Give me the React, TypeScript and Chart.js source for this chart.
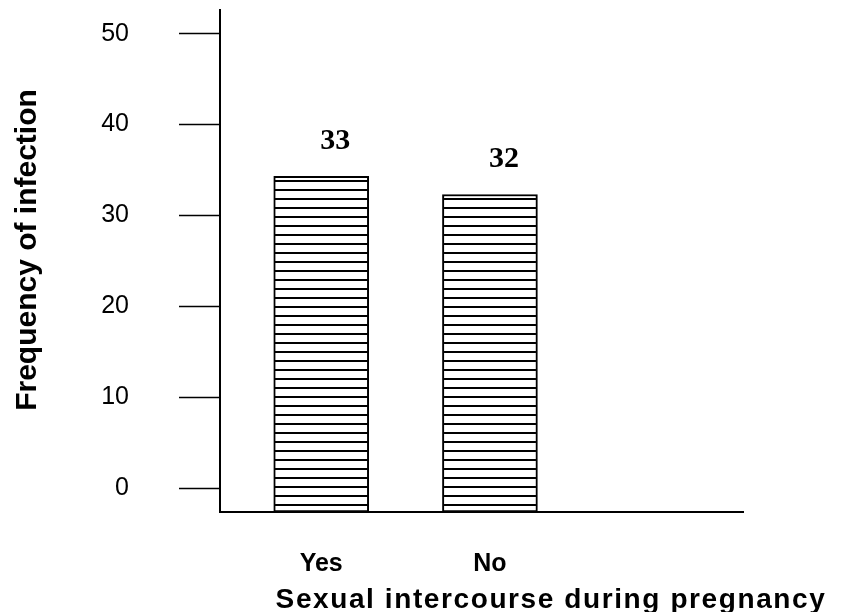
import React, { useEffect, useRef } from "react";
import { Chart, registerables } from "chart.js";

Chart.register(...registerables);

// ---- data ----
const categories = ["Yes", "No"];
const categoryPositions = [1, 2];
const barValues = [34.3, 32.3]; // bar heights as drawn in the picture
const valueLabels = ["33", "32"]; // numbers printed above the bars
const yTickValues = [0, 10, 20, 30, 40, 50];
const yTickLabels = ["0", "10", "20", "30", "40", "50"];
const xTitle = "Sexual intercourse during pregnancy";
const yTitle = "Frequency of infection";

const Y_MIN = -2.64;
const Y_MAX = 52.6;
const X_MIN = 0.4;
const X_MAX = 3.5;

function makeHatch(): CanvasPattern | string {
  const pc = document.createElement("canvas");
  pc.width = 4;
  pc.height = 9;
  const c = pc.getContext("2d");
  if (!c) return "#fff";
  c.fillStyle = "#fff";
  c.fillRect(0, 0, 4, 9);
  c.fillStyle = "#000";
  c.fillRect(0, 0, 4, 2);
  const p = c.createPattern(pc, "repeat");
  return p || "#fff";
}

const annotationPlugin = {
  id: "annotations",
  afterDatasetsDraw(chart: any) {
    const ctx = chart.ctx;
    const meta = chart.getDatasetMeta(0);
    ctx.save();
    ctx.fillStyle = "#000";
    ctx.font = "bold 30px 'Liberation Serif', 'Times New Roman', serif";
    ctx.textAlign = "center";
    ctx.textBaseline = "alphabetic";
    meta.data.forEach((bar: any, i: number) => {
      ctx.fillText(valueLabels[i], bar.x + 14, bar.y - 27);
    });
    ctx.restore();
  },
  afterDraw(chart: any) {
    const ctx = chart.ctx;
    const area = chart.chartArea;
    ctx.save();
    ctx.fillStyle = "#000";
    ctx.font = "bold 28px 'Liberation Sans', Arial, sans-serif";
    ctx.textAlign = "center";
    ctx.textBaseline = "alphabetic";
    try {
      (ctx as any).letterSpacing = "1.6px";
    } catch (e) {}
    ctx.fillText(xTitle, area.left + 331, area.bottom + 96);
    try {
      (ctx as any).letterSpacing = "0px";
    } catch (e) {}
    ctx.font = "bold 30px 'Liberation Sans', Arial, sans-serif";
    ctx.translate(36, area.top + 240);
    ctx.rotate(-Math.PI / 2);
    ctx.fillText(yTitle, 0, 0);
    ctx.restore();
  },
};

export default function App() {
  const ref = useRef<HTMLCanvasElement | null>(null);

  useEffect(() => {
    if (!ref.current) return;
    const hatch = makeHatch();
    const chart = new Chart(ref.current, {
      type: "bar",
      data: {
        datasets: [
          {
            data: categoryPositions.map((x, i) => ({ x, y: barValues[i] })),
            backgroundColor: hatch as any,
            borderColor: "#000",
            borderWidth: 2,
            borderSkipped: false,
            base: Y_MIN,
            barThickness: 95,
          } as any,
        ],
      },
      options: {
        animation: false,
        responsive: false,
        layout: { padding: { top: 10, right: 109, left: 0, bottom: 0 } },
        plugins: {
          legend: { display: false },
          tooltip: { enabled: false },
        },
        scales: {
          x: {
            type: "linear",
            min: X_MIN,
            max: X_MAX,
            offset: false,
            afterBuildTicks: (axis: any) => {
              axis.ticks = categoryPositions.map((v) => ({ value: v }));
            },
            afterFit: (s: any) => {
              s.height = 100;
              s.paddingLeft = 0;
              s.paddingRight = 0;
              s.paddingTop = 0;
              s.paddingBottom = 0;
            },
            grid: { display: false, drawTicks: false, offset: false },
            border: { display: true, color: "#000", width: 2 },
            ticks: {
              callback: (v: any) => {
                const i = categoryPositions.indexOf(Number(v));
                return i >= 0 ? categories[i] : "";
              },
              font: { family: "'Liberation Sans', Arial, sans-serif", size: 25, weight: "bold" },
              color: "#000",
              padding: 37,
              maxRotation: 0,
              autoSkip: false,
            },
          } as any,
          y: {
            type: "linear",
            min: Y_MIN,
            max: Y_MAX,
            afterBuildTicks: (axis: any) => {
              axis.ticks = yTickValues.map((v) => ({ value: v }));
            },
            afterFit: (s: any) => {
              s.width = 220;
              s.paddingLeft = 0;
              s.paddingRight = 0;
              s.paddingTop = 0;
              s.paddingBottom = 0;
            },
            grid: {
              drawOnChartArea: false,
              drawTicks: true,
              tickLength: 41,
              tickColor: "#000",
              tickWidth: 1.5,
            },
            border: { display: true, color: "#000", width: 2 },
            ticks: {
              callback: (v: any) => {
                const i = yTickValues.indexOf(Number(v));
                return i >= 0 ? yTickLabels[i] : "";
              },
              font: { family: "'Liberation Sans', Arial, sans-serif", size: 25 },
              color: "#000",
              padding: 50,
              autoSkip: false,
            },
          } as any,
        },
      },
      plugins: [annotationPlugin],
    });
    return () => chart.destroy();
  }, []);

  return (
    <div style={{ position: "absolute", left: 0, top: 0, width: 852, height: 612, background: "#fff" }}>
      <canvas ref={ref} width={852} height={612} style={{ display: "block" }} />
    </div>
  );
}
